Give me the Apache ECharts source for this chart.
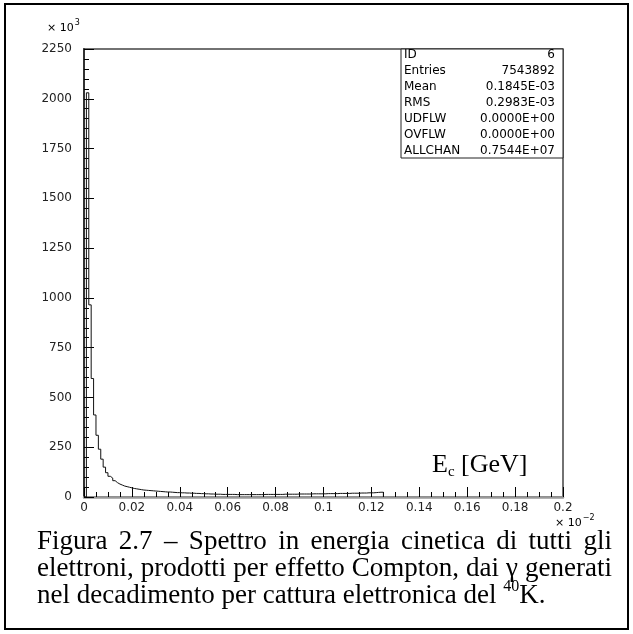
<!DOCTYPE html>
<html>
<head>
<meta charset="utf-8">
<script src="https://cdn.jsdelivr.net/npm/echarts@6/dist/echarts.min.js"></script>
<style>
html, body { margin: 0; padding: 0; background: #fff; }
#chart { width: 633px; height: 634px; }
</style>
</head>
<body>
<div id="chart"></div>
<script>
// bin width in units of 10^-2 GeV, counts in units of 10^3
var binWidth = 0.001;
var counts = [
    0, 2030, 965, 595, 412, 310, 240, 190, 150, 122,
    104, 95, 82, 72, 65, 60, 55, 52, 49, 46,
    43, 41, 39, 37, 35, 34, 33, 32, 31, 30,
    29, 28, 27, 26, 25, 25, 24, 23, 22, 22,
    21, 21, 20, 20, 19, 19, 18, 18, 17, 17,
    16, 16, 15, 15, 14, 14, 14, 13, 13, 13,
    13, 13, 13, 12, 12, 12, 12, 12, 12, 12,
    12, 12, 12, 12, 12, 13, 13, 13, 13, 13,
    13, 13, 13, 14, 14, 14, 14, 14, 14, 15,
    15, 15, 15, 15, 15, 16, 16, 16, 16, 16,
    16, 17, 17, 17, 17, 17, 18, 18, 18, 18,
    18, 19, 19, 19, 19, 20, 20, 20, 21, 21,
    21, 22, 23, 24, 24
];
var statLabels = ['ID', 'Entries', 'Mean', 'RMS', 'UDFLW', 'OVFLW', 'ALLCHAN'];
var statValues = ['6', '7543892', '0.1845E-03', '0.2983E-03', '0.0000E+00', '0.0000E+00', '0.7544E+07'];
var captionLine1 = ['Figura', '2.7', '\u2013', 'Spettro', 'in', 'energia', 'cinetica', 'di', 'tutti', 'gli'];
var captionLine2 = ['elettroni,', 'prodotti', 'per', 'effetto', 'Compton,', 'dai', '\u03b3', 'generati'];
var captionLine3 = 'nel decadimento per cattura elettronica del ';

var dom = document.getElementById('chart');
var myChart = echarts.init(dom, null, { renderer: 'canvas' });

var mctx = document.createElement('canvas').getContext('2d');
function textWidth(str, font) {
    mctx.font = font;
    return mctx.measureText(str).width;
}

function textEl(str, x, y, font, align) {
    return {
        type: 'text',
        x: x,
        y: y,
        z: 100,
        style: {
            text: str,
            font: font,
            fill: '#000',
            textAlign: align || 'left',
            align: align || 'left',
            textVerticalAlign: 'middle',
            verticalAlign: 'middle'
        }
    };
}

var labelFont = '12px "DejaVu Sans"';
var capFont = '27px "Liberation Serif"';
var capLeft = 37;
var capRight = 612;

// caption lines are justified like in the original document
function justified(words, y) {
    var widths = words.map(function (w) { return textWidth(w, capFont); });
    var total = widths.reduce(function (a, b) { return a + b; }, 0);
    var gap = (capRight - capLeft - total) / (words.length - 1);
    var x = capLeft;
    var els = [];
    words.forEach(function (w, i) {
        els.push(textEl(w, x, y, capFont));
        x += widths[i] + gap;
    });
    return els;
}

var graphics = [];

// outer frame
graphics.push({
    type: 'rect',
    shape: { x: 5, y: 4, width: 623, height: 625 },
    style: { fill: null, stroke: '#000', lineWidth: 2 },
    z: 100
});

// statistics box
graphics.push({
    type: 'rect',
    shape: { x: 401, y: 49, width: 162, height: 109 },
    style: { fill: '#fff', stroke: '#222', lineWidth: 1 },
    z: 90
});
statLabels.forEach(function (lab, i) {
    graphics.push(textEl(lab, 404, 55 + 16 * i, labelFont));
    graphics.push(textEl(statValues[i], 555, 55 + 16 * i, labelFont, 'right'));
});

// exponent labels
var expFont = '11px "DejaVu Sans"';
var supFont = '8px "DejaVu Sans"';
graphics.push(textEl('\u00d7 10', 47, 28, expFont));
graphics.push(textEl('3', 47 + textWidth('\u00d7 10', expFont) + 1, 23, supFont));
graphics.push(textEl('\u00d7 10', 555, 523, expFont));
graphics.push(textEl('\u22122', 555 + textWidth('\u00d7 10', expFont) + 1, 518, supFont));

// axis title inside the frame
var titleFont = '26px "Liberation Serif"';
var subFont = '15px "Liberation Serif"';
var tx = 432;
graphics.push(textEl('E', tx, 465, titleFont));
tx += textWidth('E', titleFont);
graphics.push(textEl('c', tx, 472, subFont));
tx += textWidth('c', subFont);
graphics.push(textEl(' [GeV]', tx, 465, titleFont));

// caption
graphics = graphics.concat(justified(captionLine1, 542));
graphics = graphics.concat(justified(captionLine2, 569));
var cx = capLeft;
graphics.push(textEl(captionLine3, cx, 596, capFont));
cx += textWidth(captionLine3, capFont);
graphics.push(textEl('40', cx, 587, '16px "Liberation Serif"'));
cx += textWidth('40', '16px "Liberation Serif"');
graphics.push(textEl('K.', cx, 596, capFont));

var histData = counts.map(function (c, i) { return [i * binWidth, c]; });
histData.push([counts.length * binWidth, 0]);

var option = {
    animation: false,
    backgroundColor: '#fff',
    grid: {
        left: 84,
        right: 70,
        top: 49,
        bottom: 137,
        show: true,
        borderColor: '#444',
        borderWidth: 1.5,
        containLabel: false,
        outerBoundsMode: 'none'
    },
    xAxis: {
        type: 'value',
        min: 0,
        max: 0.2,
        interval: 0.02,
        axisLine: { lineStyle: { color: '#999', width: 2.5 } },
        axisTick: { inside: true, length: 10, lineStyle: { color: '#000', width: 1 } },
        minorTick: { show: true, splitNumber: 4, length: 5, lineStyle: { color: '#000', width: 1 } },
        splitLine: { show: false },
        minorSplitLine: { show: false },
        axisLabel: {
            margin: 5,
            color: '#222',
            fontSize: 12,
            fontFamily: 'DejaVu Sans',
            formatter: function (v) { return String(+v.toFixed(3)); }
        }
    },
    yAxis: {
        type: 'value',
        min: 0,
        max: 2250,
        interval: 250,
        axisLine: { show: true, lineStyle: { color: '#333', width: 2 } },
        axisTick: { show: true, inside: true, length: 10, lineStyle: { color: '#000', width: 1 } },
        minorTick: { show: true, splitNumber: 5, length: 5, lineStyle: { color: '#000', width: 1 } },
        splitLine: { show: false },
        axisLabel: {
            margin: 12,
            color: '#222',
            fontSize: 12,
            fontFamily: 'DejaVu Sans',
            formatter: function (v) { return String(v); }
        }
    },
    series: [{
        type: 'line',
        step: 'end',
        symbol: 'none',
        data: histData,
        lineStyle: { color: '#111', width: 1 },
        z: 5
    }],
    graphic: graphics
};

myChart.setOption(option);
</script>
</body>
</html>
